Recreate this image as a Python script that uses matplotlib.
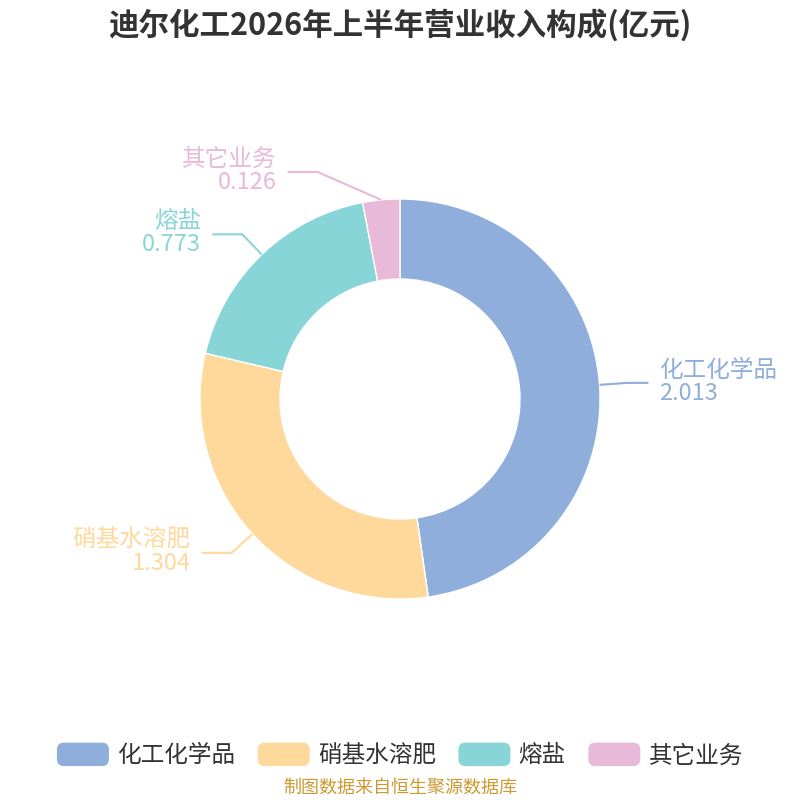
import numpy as np
import matplotlib
matplotlib.use("Agg")
import matplotlib.pyplot as plt
from matplotlib.patches import FancyBboxPatch
from matplotlib.legend_handler import HandlerPatch

plt.rcParams['font.family'] = ['Noto Sans CJK SC', 'DejaVu Sans']

title = "迪尔化工2026年上半年营业收入构成(亿元)"
categories = ["化工化学品", "硝基水溶肥", "熔盐", "其它业务"]
values = [2.013, 1.304, 0.773, 0.126]
value_labels = ["2.013", "1.304", "0.773", "0.126"]
colors = ["#8FAEDB", "#FFD99B", "#88D5D8", "#E8B9D8"]
source = "制图数据来自恒生聚源数据库"

W = H = 800
fig = plt.figure(figsize=(8, 8), dpi=100)
ax = fig.add_axes([0, 0, 1, 1])

cx, cy = 400, H - 399
R = 200
wedges, _ = ax.pie(values, colors=colors, startangle=90, counterclock=False,
                   center=(cx, cy), radius=R,
                   wedgeprops=dict(width=80, edgecolor='white', linewidth=1))
ax.set_xlim(0, W)
ax.set_ylim(0, H)
ax.set_aspect('equal')
ax.axis('off')

# leader lines & labels
elbow_shift = [0, 0, 0, -61]
seg1 = 28
seg2 = [21, 30, 30, 30]
for w, cat, vl, col, sh, s2 in zip(wedges, categories, value_labels, colors, elbow_shift, seg2):
    ang = np.deg2rad((w.theta1 + w.theta2) / 2)
    ex, ey = cx + R * np.cos(ang), cy + R * np.sin(ang)
    bx, by = cx + (R + seg1) * np.cos(ang) + sh, cy + (R + seg1) * np.sin(ang)
    side = 1 if np.cos(ang) > 0 else -1
    fx = bx + side * s2
    ax.plot([ex, bx, fx], [ey, by, by], color=col, lw=1.5, solid_capstyle='butt')
    tx = fx + side * 11
    ax.text(tx, by + 1, f"{cat}\n{vl}", color=col, fontsize=17,
            ha='left' if side > 0 else 'right', va='center',
            multialignment='left' if side > 0 else 'right', linespacing=1.0)

fig.text(0.5, 1 - 25 / H, title, ha='center', va='center', fontsize=22,
         fontweight='bold', color='#333333')


class RoundHandler(HandlerPatch):
    def create_artists(self, legend, orig_handle, xdescent, ydescent, width,
                       height, fontsize, trans):
        p = FancyBboxPatch((-xdescent + 3, -ydescent + 3), width - 6, height - 6,
                           boxstyle="round,pad=3,rounding_size=5",
                           facecolor=orig_handle.get_facecolor(),
                           edgecolor='none', transform=trans)
        return [p]


leg = fig.legend(wedges, categories, loc='center', bbox_to_anchor=(0.5, 1 - 755 / H),
                 ncol=4, frameon=False, fontsize=17, handlelength=2.2,
                 handleheight=1.15, handletextpad=0.35, columnspacing=0.95,
                 handler_map={matplotlib.patches.Wedge: RoundHandler()})
for t in leg.get_texts():
    t.set_color('#333333')

fig.text(0.5, 1 - 788 / H, source, ha='center', va='center', fontsize=13,
         color='#CC9933')

fig.savefig("out.png", dpi=100, facecolor='white')
